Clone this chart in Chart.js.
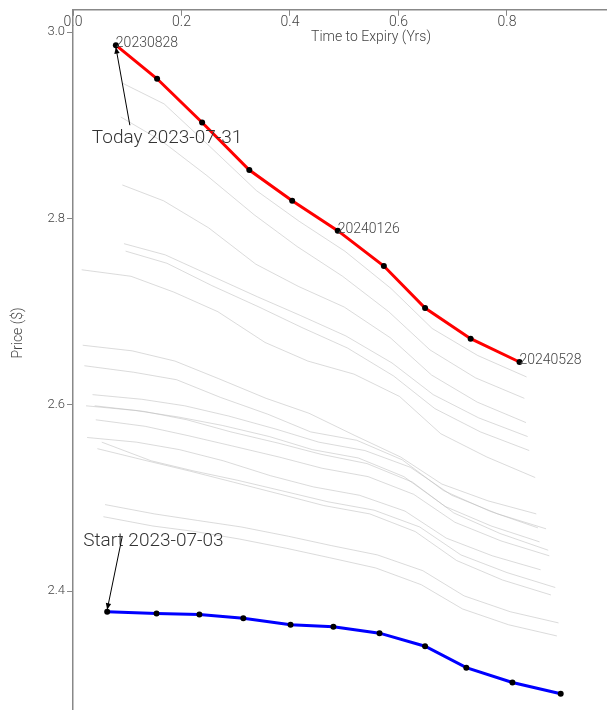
<!DOCTYPE html>
<html>
<head>
<meta charset="utf-8">
<script src="https://cdn.jsdelivr.net/npm/chart.js@4.4.1/dist/chart.umd.min.js"></script>
<style>
  html, body { margin: 0; padding: 0; background: #fff; overflow: hidden; }
</style>
</head>
<body>
<canvas id="curve" width="613" height="719"></canvas>
<script>
// term structure on the first and last day
const startDate = '2023-07-03';
const todayDate = '2023-07-31';

const todayTimes  = [0.079, 0.155, 0.238, 0.325, 0.404, 0.488, 0.573, 0.649, 0.733, 0.823];
const todayPrices = [2.986, 2.950, 2.903, 2.852, 2.819, 2.787, 2.749, 2.704, 2.671, 2.646];
const todayTags   = ['20230828', '', '', '', '', '20240126', '', '', '', '20240528'];

const startTimes  = [0.063, 0.154, 0.233, 0.314, 0.401, 0.480, 0.565, 0.649, 0.725, 0.810, 0.899];
const startPrices = [2.378, 2.376, 2.375, 2.371, 2.364, 2.362, 2.355, 2.341, 2.318, 2.302, 2.290];

// the days in between (grey curves)
const midTimes = [
  [0.092, 0.168, 0.251, 0.338, 0.417, 0.501, 0.586, 0.662, 0.746, 0.836],
  [0.088, 0.164, 0.247, 0.334, 0.413, 0.497, 0.582, 0.658, 0.742, 0.832],
  [0.091, 0.167, 0.250, 0.337, 0.416, 0.500, 0.585, 0.661, 0.745, 0.835],
  [0.094, 0.170, 0.253, 0.340, 0.419, 0.503, 0.588, 0.664, 0.748, 0.838],
  [0.097, 0.173, 0.256, 0.343, 0.422, 0.506, 0.591, 0.667, 0.751, 0.841],
  [0.016, 0.107, 0.186, 0.267, 0.354, 0.433, 0.518, 0.602, 0.678, 0.763, 0.852],
  [0.018, 0.109, 0.188, 0.269, 0.356, 0.435, 0.520, 0.604, 0.680, 0.765, 0.854],
  [0.021, 0.112, 0.191, 0.272, 0.359, 0.438, 0.523, 0.607, 0.683, 0.768, 0.857],
  [0.036, 0.127, 0.206, 0.287, 0.374, 0.453, 0.538, 0.622, 0.698, 0.783, 0.872],
  [0.024, 0.115, 0.194, 0.275, 0.362, 0.441, 0.526, 0.610, 0.686, 0.771, 0.860],
  [0.040, 0.131, 0.210, 0.291, 0.378, 0.457, 0.542, 0.626, 0.702, 0.787, 0.876],
  [0.042, 0.133, 0.212, 0.293, 0.380, 0.459, 0.544, 0.628, 0.704, 0.789, 0.878],
  [0.026, 0.117, 0.196, 0.277, 0.364, 0.443, 0.528, 0.612, 0.688, 0.773, 0.862],
  [0.053, 0.144, 0.223, 0.304, 0.391, 0.470, 0.555, 0.639, 0.715, 0.800, 0.889],
  [0.045, 0.136, 0.215, 0.296, 0.383, 0.462, 0.547, 0.631, 0.707, 0.792, 0.881],
  [0.059, 0.150, 0.229, 0.310, 0.397, 0.476, 0.561, 0.645, 0.721, 0.806, 0.895],
  [0.056, 0.147, 0.226, 0.307, 0.394, 0.473, 0.558, 0.642, 0.718, 0.803, 0.892]
];
const midPrices = [
  [2.945, 2.923, 2.878, 2.830, 2.797, 2.765, 2.725, 2.682, 2.653, 2.630],
  [2.909, 2.883, 2.846, 2.804, 2.770, 2.738, 2.700, 2.659, 2.629, 2.607],
  [2.836, 2.819, 2.790, 2.751, 2.727, 2.705, 2.672, 2.632, 2.603, 2.581],
  [2.773, 2.761, 2.739, 2.716, 2.696, 2.674, 2.645, 2.611, 2.586, 2.566],
  [2.765, 2.752, 2.728, 2.705, 2.683, 2.661, 2.631, 2.596, 2.571, 2.551],
  [2.745, 2.738, 2.721, 2.700, 2.667, 2.647, 2.633, 2.609, 2.569, 2.544, 2.522],
  [2.664, 2.658, 2.647, 2.628, 2.607, 2.591, 2.567, 2.544, 2.515, 2.497, 2.483],
  [2.642, 2.635, 2.627, 2.608, 2.590, 2.571, 2.562, 2.541, 2.508, 2.486, 2.468],
  [2.611, 2.606, 2.599, 2.588, 2.574, 2.560, 2.551, 2.533, 2.503, 2.483, 2.467],
  [2.599, 2.594, 2.587, 2.578, 2.566, 2.552, 2.543, 2.523, 2.491, 2.470, 2.453],
  [2.599, 2.593, 2.584, 2.571, 2.559, 2.547, 2.537, 2.517, 2.484, 2.462, 2.444],
  [2.584, 2.577, 2.567, 2.556, 2.544, 2.532, 2.523, 2.504, 2.474, 2.454, 2.438],
  [2.565, 2.560, 2.552, 2.540, 2.524, 2.512, 2.503, 2.486, 2.457, 2.438, 2.423],
  [2.560, 2.540, 2.529, 2.519, 2.507, 2.496, 2.487, 2.469, 2.439, 2.420, 2.404],
  [2.553, 2.540, 2.529, 2.517, 2.504, 2.492, 2.483, 2.464, 2.433, 2.412, 2.396],
  [2.493, 2.483, 2.476, 2.469, 2.459, 2.449, 2.439, 2.422, 2.395, 2.378, 2.366],
  [2.480, 2.470, 2.464, 2.456, 2.446, 2.436, 2.425, 2.407, 2.381, 2.364, 2.352]
];

const timeTicks  = [0, 0.2, 0.4, 0.6, 0.8];
const priceTicks = [2.4, 2.6, 2.8, 3.0];

const toPoints = (xs, ys) => xs.map((x, i) => ({ x: x, y: ys[i] }));

const datasets = [
  {
    label: 'Today ' + todayDate,
    data: toPoints(todayTimes, todayPrices),
    borderColor: '#ff0000', borderWidth: 3,
    pointRadius: 3, pointBackgroundColor: '#000', pointBorderWidth: 0
  },
  {
    label: 'Start ' + startDate,
    data: toPoints(startTimes, startPrices),
    borderColor: '#0000ff', borderWidth: 3,
    pointRadius: 3, pointBackgroundColor: '#000', pointBorderWidth: 0
  }
];
midTimes.forEach((xs, i) => {
  datasets.push({
    label: 'day ' + (i + 1),
    data: toPoints(xs, midPrices[i]),
    borderColor: 'rgba(190,190,190,0.55)', borderWidth: 1,
    pointRadius: 0
  });
});

function arrow(ctx, x1, y1, x2, y2) {
  const a = Math.atan2(y2 - y1, x2 - x1);
  ctx.beginPath();
  ctx.moveTo(x1, y1);
  ctx.lineTo(x2, y2);
  ctx.stroke();
  ctx.beginPath();
  ctx.moveTo(x2, y2);
  ctx.lineTo(x2 - 7 * Math.cos(a - 0.4), y2 - 7 * Math.sin(a - 0.4));
  ctx.lineTo(x2 - 7 * Math.cos(a + 0.4), y2 - 7 * Math.sin(a + 0.4));
  ctx.closePath();
  ctx.fill();
}

// callouts, expiry tags and axis titles
const notes = {
  id: 'notes',
  afterDatasetsDraw(chart) {
    const ctx = chart.ctx;
    const area = chart.chartArea;
    const today = chart.getDatasetMeta(0).data;
    const start = chart.getDatasetMeta(1).data;
    ctx.save();

    ctx.fillStyle = '#444';
    ctx.font = '300 14px Roboto';
    ctx.textAlign = 'left';
    ctx.textBaseline = 'alphabetic';
    todayTags.forEach((t, i) => {
      if (t) ctx.fillText(t, today[i].x, today[i].y + 2);
    });

    ctx.fillStyle = '#333';
    ctx.font = '300 19px Roboto';
    const p = today[0], q = start[0];
    ctx.fillText('Today ' + todayDate, p.x - 24, p.y + 98);
    ctx.fillText('Start ' + startDate, q.x - 24, q.y - 66);

    ctx.strokeStyle = '#000';
    ctx.fillStyle = '#000';
    ctx.lineWidth = 1;
    arrow(ctx, p.x + 14, p.y + 80, p.x, p.y + 2);
    arrow(ctx, q.x + 15, q.y - 75, q.x, q.y - 2);

    ctx.fillStyle = '#444';
    ctx.font = '300 14px Roboto';
    ctx.textAlign = 'center';
    ctx.textBaseline = 'middle';
    ctx.fillText('Time to Expiry (Yrs)', area.left + 298, area.top + 27.5);
    ctx.translate(18.5, 333);
    ctx.rotate(-Math.PI / 2);
    ctx.fillText('Price ($)', 0, 0);
    ctx.restore();
  }
};

Chart.defaults.font.family = 'Roboto';

new Chart(document.getElementById('curve'), {
  type: 'scatter',
  data: { datasets: datasets },
  options: {
    responsive: false,
    animation: false,
    showLine: true,
    layout: { padding: { top: 0, right: 7, bottom: 8, left: 0 } },
    plugins: { legend: { display: false }, tooltip: { enabled: false } },
    scales: {
      x: {
        type: 'linear', position: 'top', min: 0, max: 0.9825,
        afterBuildTicks: s => { s.ticks = timeTicks.map(v => ({ value: v })); },
        afterFit: s => { s.height = 8; },
        border: { color: '#888', width: 1.5 },
        grid: { drawOnChartArea: false, tickLength: -6, color: '#888' },
        ticks: { mirror: true, padding: 4.5, color: '#444', maxRotation: 0, autoSkip: false,
                 font: { size: 14, weight: 300 }, callback: v => v.toFixed(1) }
      },
      y: {
        type: 'linear', min: 2.2734, max: 3.024,
        afterBuildTicks: s => { s.ticks = priceTicks.map(v => ({ value: v })); },
        afterFit: s => { s.width = 73; },
        border: { color: '#888', width: 1.5 },
        grid: { drawOnChartArea: false, tickLength: 6, color: '#888' },
        ticks: { padding: 2, color: '#444',
                 font: { size: 13, weight: 300 }, callback: v => v.toFixed(1) }
      }
    }
  },
  plugins: [notes]
});
</script>
</body>
</html>
